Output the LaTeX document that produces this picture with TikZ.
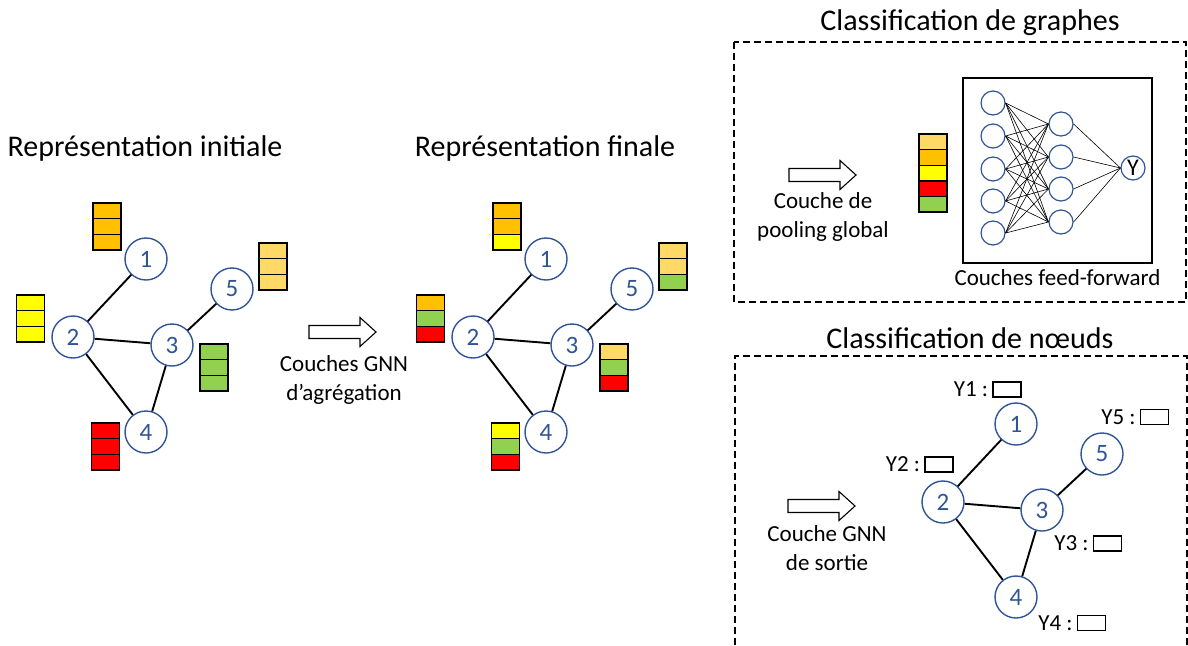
\documentclass[tikz,border=0pt]{standalone}
\usepackage{fontspec}
\setmainfont{Carlito}
\usepackage{tikz}
\usetikzlibrary{positioning,calc}
\definecolor{gblue}{RGB}{47,85,151}
\definecolor{corange}{RGB}{255,192,0}
\definecolor{clight}{RGB}{255,217,102}
\definecolor{cyellow}{RGB}{255,255,0}
\definecolor{cgreen}{RGB}{146,208,80}
\definecolor{cred}{RGB}{255,0,0}
\tikzset{
  figfont/.style={font=\fontsize{23}{29}\selectfont},
  figtitle/.style={font=\fontsize{30}{36}\selectfont},
  gnode/.style={circle, draw=gblue, line width=1.4pt, fill=white, text=gblue,
    minimum size=42pt, inner sep=0pt, font=\fontsize{25}{28}\selectfont},
  gedge/.style={line width=1.9pt},
  cell/.style={draw, line width=1.4pt, minimum width=28pt, minimum height=15.6pt,
    inner sep=0pt, outer sep=0pt},
  ybox/.style={draw, line width=1.5pt, minimum width=28pt, minimum height=15pt, inner sep=0pt},
  nnode/.style={circle, draw=gblue, line width=1.2pt, minimum size=24pt, inner sep=0pt},
  nnedge/.style={line width=0.6pt},
  dashbox/.style={draw, dash pattern=on 7pt off 4pt, line width=1.2pt},
  bigarrow/.pic={
    \draw[line width=1.1pt, fill=white] (0,-6.5) -- (51,-6.5) -- (51,-14.5) -- (67,0)
      -- (51,14.5) -- (51,6.5) -- (0,6.5) -- cycle;
  },
}
\begin{document}
\begin{tikzpicture}[x=1pt, y=-1pt, figfont]
  \useasboundingbox (0,0) rectangle (1188,645);

  % Titles
  \node[figtitle] (tinit) at (145,148) {Représentation initiale};
  \node[figtitle] (tfin) at (545,148) {Représentation finale};
  \node[figtitle] (tgraph) at (970,23) {Classification de graphes};
  \node[figtitle] (tnode) at (970,338) {Classification de nœuds};

  % The three copies of the graph
  \foreach \g/\dx/\dy in {a/0/0, b/400/0, c/870/165} {
    \begin{scope}[shift={(\dx,\dy)}]
      \node[gnode] (\g1) at (146,259) {1};
      \node[gnode] (\g2) at (73,337) {2};
      \node[gnode] (\g3) at (172,345) {3};
      \node[gnode] (\g4) at (146,432) {4};
      \node[gnode] (\g5) at (232,289) {5};
      \draw[gedge] (\g1) -- (\g2) (\g2) -- (\g3) (\g2) -- (\g4)
        (\g3) -- (\g4) (\g3) -- (\g5);
    \end{scope}
  }

  % Feature stacks
  \foreach \s/\x/\y/\cols in {
      sa1/107/203/{corange,corange,corange}, sa2/30.5/295/{cyellow,cyellow,cyellow},
      sa3/214/344/{cgreen,cgreen,cgreen}, sa4/105.5/423/{cred,cred,cred},
      sa5/273/243/{clight,clight,clight},
      sb1/507/203/{corange,corange,cyellow}, sb2/430.5/295/{corange,cgreen,cred},
      sb3/614/344/{clight,cgreen,cred}, sb4/505.5/423/{cyellow,cgreen,cred},
      sb5/673/243/{clight,clight,cgreen},
      sp/933/134/{clight,corange,cyellow,cred,cgreen}}
    \foreach \c [count=\i] in \cols
      \node[cell, fill=\c] (\s-\i) at (\x,{\y+15.6*\i-7.8}) {};

  % Block arrows and their texts
  \pic at (309,332) {bigarrow};
  \node[align=center] (aggtxt) at (344,380) {Couches GNN\\d’agrégation};
  \pic at (789,175) {bigarrow};
  \node[align=center] (pooltxt) at (823,217) {Couche de\\pooling global};
  \pic at (788,506) {bigarrow};
  \node[align=center] (outtxt) at (827,548) {Couche GNN\\de sortie};

  % Graph classification box
  \draw[dashbox] (734,42) rectangle (1186,302);
  \node[draw, line width=1.4pt, minimum width=189pt, minimum height=185pt] (ffbox) at (1057.5,170.5) {};
  \node[below=2pt of ffbox] (fftxt) {Couches feed-forward};
  \foreach \i/\y in {1/103,2/136,3/169,4/201,5/233}
    \node[nnode] (ni\i) at (993,\y) {};
  \foreach \j/\y in {1/124,2/157,3/189,4/222}
    \node[nnode] (nh\j) at (1061,\y) {};
  \node[nnode, font=\fontsize{24}{26}\selectfont] (ny) at (1133,168) {Y};
  \foreach \i in {1,...,5}
    \foreach \j in {1,...,4}
      \draw[nnedge] (ni\i.east) -- (nh\j.west);
  \foreach \j in {1,...,4}
    \draw[nnedge] (nh\j.east) -- (ny.west);

  % Node classification box
  \draw[dashbox] (735,645) -- (735,356) -- (1187,356) -- (1187,645);
  \foreach \k/\x/\y in {1/1007/389.5, 2/939/464.5, 3/1107.5/543.5, 4/1091.5/623, 5/1154.5/417} {
    \node[ybox] (yb\k) at (\x,\y) {};
    \node[left=0pt of yb\k, inner sep=4pt] (yl\k) {Y\k~:};
  }
\end{tikzpicture}
\end{document}
